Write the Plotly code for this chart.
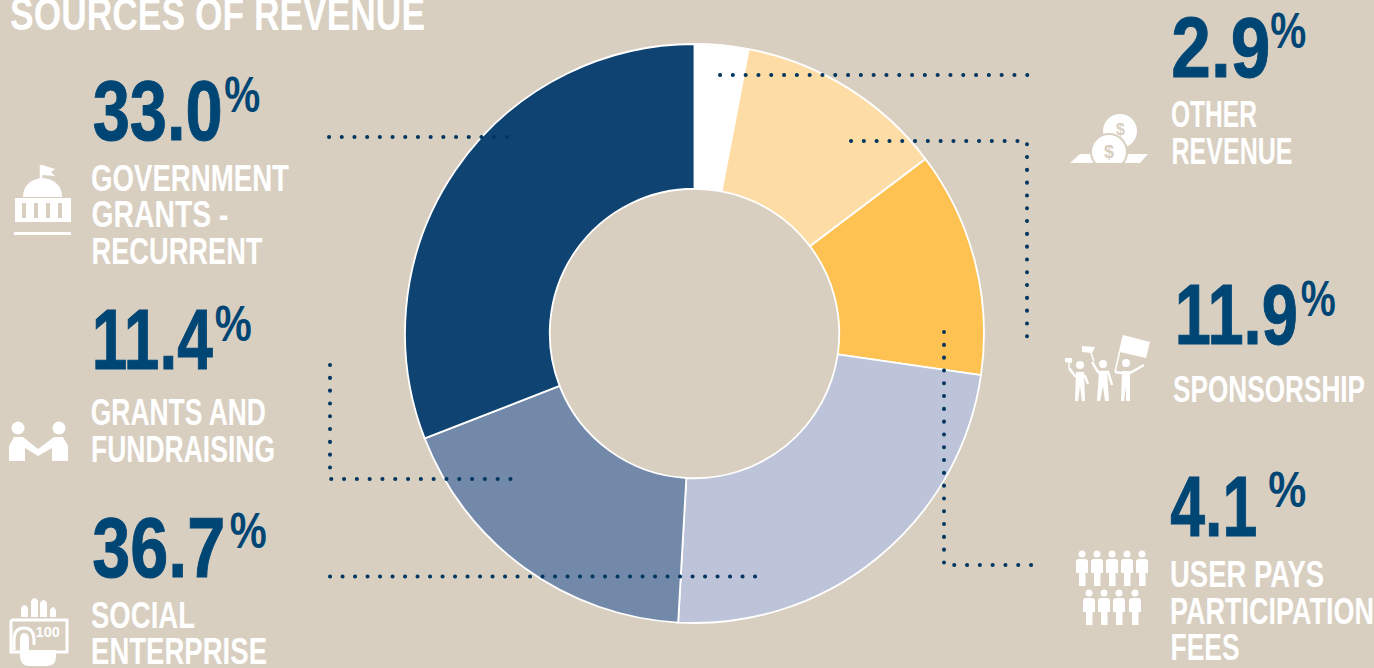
import json
import plotly.graph_objects as go

BG = "#D8CFC1"
NAVY = "#004675"
WHITE = "#FFFFFF"
FONT = "Liberation Sans"

slice_names = ["Other revenue", "Sponsorship", "User pays participation fees",
               "Social enterprise", "Grants and fundraising", "Government grants - recurrent"]
slice_values = [3.0, 11.7, 12.6, 23.6, 18.2, 30.9]
slice_colors = ["#FFFFFF", "#FDDDA5", "#FEC253", "#BDC3D8", "#7389AA", "#0F4472"]

title = ("SOURCES OF REVENUE", 10, 425, 13)
pct_labels = [("33.0", 92, 222, 110), ("11.4", 92, 213, 339), ("36.7", 92, 225, 547),
              ("2.9", 1171, 1270, 47), ("11.9", 1175, 1298, 314), ("4.1", 1170, 1257, 505.5)]
pct_signs = [(224, 260, 95), (214, 251, 324), (229, 266, 531),
             (1270, 1306, 31), (1300, 1335, 299), (1268, 1306, 490)]
cat_lines = [
    ("GOVERNMENT", 91, 289, 178), ("GRANTS -", 91, 228, 214.5), ("RECURRENT", 91, 262, 251),
    ("GRANTS AND", 91, 266, 412.5), ("FUNDRAISING", 91, 275, 449),
    ("SOCIAL", 91, 195, 615), ("ENTERPRISE", 91, 267, 651),
    ("OTHER", 1171, 1257, 114), ("REVENUE", 1171, 1292, 151),
    ("SPONSORSHIP", 1173, 1365, 389),
    ("USER PAYS", 1170, 1324, 574.5), ("PARTICIPATION", 1170, 1374, 611), ("FEES", 1170, 1239, 647.5),
]
leaders = [
    ("M720,75 L1032,75", 12.8), ("M851,141 L1027,141 L1027,343", 12.8), ("M944,332 L944,565 L1033,565", 12.8),
    ("M329,137 L508,137", 12.7), ("M330,365 L330,479 L512,479", 12.8), ("M330,576.5 L758,576.5", 12.5),
]

fig = go.Figure(go.Pie(
    labels=slice_names, values=slice_values, sort=False, direction="clockwise", rotation=0,
    hole=0.5, textinfo="none", hoverinfo="label+percent",
    marker=dict(colors=slice_colors, line=dict(color="#FFFFFF", width=1.8)),
    domain=dict(x=[(694.5 - 289.5) / 1374, (694.5 + 289.5) / 1374], y=[(334.5 - 289.5) / 668, (334.5 + 289.5) / 668]),
    showlegend=False,
))
# keeps the pixel-scaled cartesian axes alive for the overlay shapes
fig.add_trace(go.Scatter(x=[0], y=[0], mode="markers", opacity=0, hoverinfo="skip", showlegend=False))

ann, shp, widths, heavy = [], [], {}, []
def text(t, x, y, size, color, width=None, weight=700):
    if width:
        widths[len(ann)] = width
    ann.append(dict(text=t, x=x, y=y, xref="x", yref="y", xanchor="center",
                    yanchor="middle", showarrow=False,
                    font=dict(family=FONT, size=size, color=color, weight=weight)))
def span(t, x0, x1, yc, size, color):
    text(t, (x0 + x1) / 2, yc, size, color, x1 - x0)
def path(d, fill=WHITE):
    shp.append(dict(type="path", path=d, xref="x", yref="y", fillcolor=fill, layer="above",
                    line=dict(color="rgba(0,0,0,0)", width=0)))
def stroke(d, w=3, color=WHITE):
    shp.append(dict(type="path", path=d, xref="x", yref="y", layer="above", line=dict(color=color, width=w)))
def circle(cx, cy, r, fill=WHITE):
    shp.append(dict(type="circle", x0=cx - r, x1=cx + r, y0=cy - r, y1=cy + r, xref="x", yref="y",
                    fillcolor=fill, layer="above", line=dict(width=0)))
def rect(x0, y0, x1, y1, fill=WHITE):
    shp.append(dict(type="rect", x0=x0, x1=x1, y0=y0, y1=y1, xref="x", yref="y",
                    fillcolor=fill, layer="above", line=dict(width=0)))

span(*title, 47, WHITE)
for p, x0, x1, y in pct_labels:
    heavy.append(len(ann))
    span(p, x0, x1, y, 86, NAVY)
for x0, x1, y in pct_signs:
    span("%", x0, x1, y, 50, NAVY)
for t, x0, x1, y in cat_lines:
    span(t, x0, x1, y, 36, WHITE)

for d, step in leaders:
    shp.append(dict(type="path", path=d, xref="x", yref="y", layer="above",
                    line=dict(color="#00365F", width=4, dash=f"0.1px,{step - 0.1}px")))

# government icon
stroke("M41,180 L41,165", 2.5)
path("M42,165 L55,169 L51,172 L55,176 L42,175 Z")
path("M23,197 C23,172 62,172 62,197 Z")
rect(15, 198, 71, 222)
for cx in (24, 36, 48, 60):
    rect(cx - 2, 203, cx + 2, 218, BG)
rect(14, 232, 71, 235)

# handshake icon
circle(18, 428, 6.5); circle(59, 428, 6.5)
path("M9,461 L9,446 L14,437 L23,437 L38,449 L54,437 L63,437 L68,446 L68,461 L52,461 L52,448 L38,456 L25,448 L25,461 Z")

# hand with note icon
for x0, x1, top in ((21, 28, 605), (31, 38, 598), (40, 47, 600), (50, 56, 607)):
    path(f"M{x0},617 L{x0},{top + 3} Q{(x0 + x1) / 2},{top - 3} {x1},{top + 3} L{x1},617 Z")
stroke("M11,620 L67,620 L67,652 L56,652 M20,652 L11,652 L11,620", 3)
stroke("M14,650 L14,640 Q14,628 24,628 Q34,628 34,640 L34,645", 3)
path("M20,640 Q20,633 24,633 Q29,633 29,640 L29,650 L56,650 L56,657 Q56,666 46,666 L30,666 Q20,666 20,656 Z")
text("100", 48, 632, 14, WHITE, width=24, weight=700)

# coins icon
path("M1070,163 L1080,154 L1148,154 L1140,163 Z")
circle(1120, 131, 17)
circle(1109, 152, 19, BG)
circle(1109, 152, 17)
rect(1086, 163, 1134, 172, BG)
text("$", 1120, 129, 16, BG)
text("$", 1109, 152, 18, BG)

# flag-bearers icon
for cx, cy in ((1080, 365), (1103, 364), (1126, 363)):
    circle(cx, cy, 4)
path("M1123,335 L1150,342 L1146,358 L1120,352 Z")
stroke("M1123,337 L1115,372", 1.5)
path("M1082,346 L1095,347 L1092,353 L1082,352 Z")
stroke("M1090,350 L1094,361", 1.5)
path("M1065,358 L1072,358 L1072,363 L1065,362 Z")
stroke("M1069,361 L1069,368", 1.5)
stroke("M1069,368 L1075,376 L1085,376 L1088,384", 2.5)
path("M1076,372 L1084,372 L1085,401 L1082,401 L1080,386 L1078,401 L1075,401 Z")
stroke("M1092,362 L1098,372 L1108,372 L1112,385", 2.5)
path("M1099,371 L1107,371 L1109,401 L1105,401 L1103,386 L1100,401 L1097,401 Z")
stroke("M1115,372 L1122,373 L1130,373 L1144,365", 2.5)
path("M1122,371 L1130,371 L1130,401 L1126,401 L1126,386 L1124,401 L1121,401 Z")

# people icon
def person(x, y):
    circle(x, y, 3.5)
    path(f"M{x - 6},{y + 8} Q{x - 6},{y + 5} {x - 3},{y + 5} L{x + 3},{y + 5} Q{x + 6},{y + 5} {x + 6},{y + 8} "
         f"L{x + 6},{y + 19} L{x + 3.5},{y + 19} L{x + 3.5},{y + 32} L{x - 3},{y + 32} L{x - 3},{y + 19} L{x - 6},{y + 19} Z")
for x in (1082, 1097, 1112, 1127, 1142):
    person(x, 554)
for x in (1089, 1104, 1119, 1135):
    person(x, 593)

fig.update_layout(
    width=1374, height=668, margin=dict(l=0, r=0, t=0, b=0),
    paper_bgcolor=BG, plot_bgcolor="rgba(0,0,0,0)",
    xaxis=dict(range=[0, 1374], visible=False, fixedrange=True),
    yaxis=dict(range=[668, 0], visible=False, fixedrange=True),
    annotations=ann, shapes=shp,
)

post = """
document.body.style.margin = '0';
document.documentElement.style.background = '%s';
var gd = document.getElementById('{plot_id}');
var widths = %s, heavy = %s;
function tune() {
  gd.querySelectorAll('.annotation').forEach(function (g) {
    var idx = g.getAttribute('data-index');
    var w = widths[idx];
    var t = g.querySelector('text');
    if (w && t) {
      t.setAttribute('textLength', w);
      t.setAttribute('lengthAdjust', 'spacingAndGlyphs');
      g.querySelectorAll('rect').forEach(function (r) {
        var x = parseFloat(r.getAttribute('x')) || 0, rw = parseFloat(r.getAttribute('width')) || 0;
        r.setAttribute('x', x + (rw - w) / 2);
        r.setAttribute('width', w);
      });
    }
    if (t && heavy.indexOf(Number(idx)) >= 0) {
      t.style.stroke = '%s';
      t.style.strokeWidth = '1px';
    }
  });
  gd.querySelectorAll('.shapelayer path').forEach(function (p) {
    var d = p.style.strokeDasharray;
    if (d && d !== 'none') { p.style.strokeLinecap = 'round'; }
  });
}
tune();
""" % (BG, json.dumps(widths), json.dumps(heavy), NAVY)
fig.write_html("out.html", config=dict(displayModeBar=False), post_script=post)
